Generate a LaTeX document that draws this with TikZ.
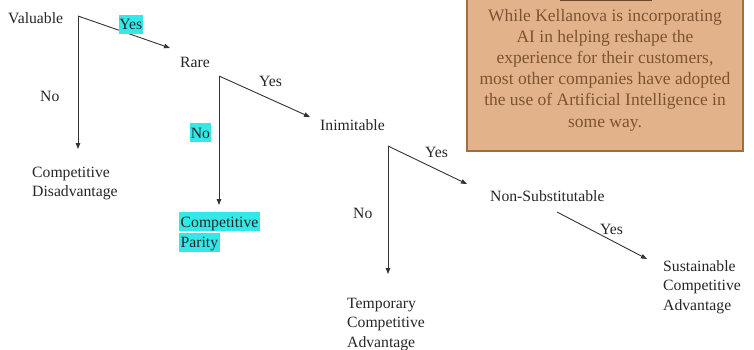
\documentclass[tikz,border=0pt]{standalone}
\usepackage{fontspec}
\setmainfont{Liberation Serif}
\usetikzlibrary{arrows.meta}

\definecolor{hl}{HTML}{33E8E8}
\definecolor{ink}{HTML}{333333}
\definecolor{notefill}{HTML}{E2B38B}
\definecolor{noteedge}{HTML}{A46E3A}
\definecolor{notetext}{HTML}{7C5330}

% highlighted word inside a multi-line label
\newcommand\hlword[1]{{\setlength{\fboxsep}{0pt}\colorbox{hl}{\hspace{1.5pt}\rule[-4pt]{0pt}{19pt}#1\hspace{1.5pt}}}}
% left-aligned stacked lines, baseline on the first line
\newcommand\lines[1]{\begin{tabular}[t]{@{}l@{}}#1\end{tabular}}

\tikzset{
  lbl/.style={anchor=base west, inner sep=0pt, text=black!85,
    font=\fontsize{15.7}{19.5}\selectfont},
  hlnode/.style={lbl, fill=hl, inner xsep=0.6pt, inner ysep=0.5pt,
    text height=14.5pt, text depth=3.5pt},
  branch/.style={draw=ink, line width=0.9pt,
    -{Triangle[length=6pt,width=4.5pt]}},
  note/.style={fill=notefill, draw=noteedge, line width=1.2pt},
  notetxt/.style={anchor=base, inner sep=0pt, text=notetext,
    font=\fontsize{17.5}{21.2}\selectfont}
}

\begin{document}
\begin{tikzpicture}[x=1pt, y=-1pt]
  \useasboundingbox (0,0) rectangle (754,349);
  \clip (0,0) rectangle (754,349);

  % side note
  \draw[note] (467,-12) rectangle (743,151);
  \draw[notetext!85!black, line width=1.6pt] (560,0.4) -- (652,0.4);
  \node[notetxt] (note) at (605,21) {\begin{tabular}[t]{@{}c@{}}
    While Kellanova is incorporating\\
    AI in helping reshape the\\
    experience for their customers,\\
    most other companies have adopted\\
    the use of Artificial Intelligence in\\
    some way.\end{tabular}};

  % decision labels
  \node[lbl] (val) at (8,23) {Valuable};
  \node[lbl] (rare) at (180,67) {Rare};
  \node[lbl] (inim) at (320,130) {Inimitable};
  \node[lbl] (nonsub) at (490,201) {Non-Substitutable};

  % outcomes
  \node[lbl] (disadv) at (32,177) {\lines{Competitive\\Disadvantage}};
  \node[lbl] (parity) at (179,227) {\lines{\hlword{Competitive}\\\hlword{Parity}}};
  \node[lbl] (temp) at (347,308) {\lines{Temporary\\Competitive\\Advantage}};
  \node[lbl] (sust) at (663,271) {\lines{Sustainable\\Competitive\\Advantage}};

  % branch points and arrow ends
  \coordinate (cV) at (78,16);
  \coordinate (cVy) at (170,48);
  \coordinate (cVn) at (78,149);
  \coordinate (cR) at (219,76);
  \coordinate (cRy) at (310,117);
  \coordinate (cRn) at (219,205);
  \coordinate (cI) at (388,146);
  \coordinate (cIy) at (467,184);
  \coordinate (cIn) at (388,274);
  \coordinate (cN) at (557,212);
  \coordinate (cNy) at (647,259);

  \draw[branch] (cV) -- (cVy);
  \draw[branch] (cV) -- (cVn);
  \draw[branch] (cR) -- (cRy);
  \draw[branch] (cR) -- (cRn);
  \draw[branch] (cI) -- (cIy);
  \draw[branch] (cI) -- (cIn);
  \draw[branch] (cN) -- (cNy);

  % branch labels
  \node[hlnode] (y1) at (118.5,29.5) {Yes};
  \node[lbl] (n1) at (40,101) {No};
  \node[lbl] (y2) at (259,86) {Yes};
  \node[hlnode] (n2) at (190,138) {No};
  \node[lbl] (y3) at (425,157) {Yes};
  \node[lbl] (n3) at (353,218) {No};
  \node[lbl] (y4) at (600,234) {Yes};
\end{tikzpicture}
\end{document}
